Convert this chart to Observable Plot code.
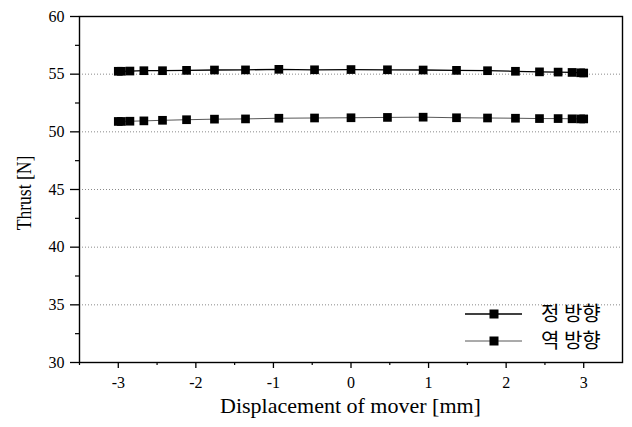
<!DOCTYPE html>
<html>
<head>
<meta charset="utf-8">
<script src="https://cdn.jsdelivr.net/npm/d3@7"></script>
<script src="https://cdn.jsdelivr.net/npm/@observablehq/plot@0.6"></script>
<style>
  html, body { margin: 0; padding: 0; background: #fff; }
  #chart { width: 632px; height: 427px; }
</style>
</head>
<body>
<div id="chart"></div>
<script>
// Data
const displacement = [-3, -2.96, -2.85, -2.67, -2.43, -2.12, -1.76, -1.36, -0.93, -0.47, 0, 0.47, 0.93, 1.36, 1.76, 2.12, 2.43, 2.67, 2.85, 2.96, 3];
const forwardThrust = [55.25, 55.25, 55.27, 55.3, 55.3, 55.33, 55.36, 55.37, 55.42, 55.38, 55.4, 55.38, 55.36, 55.33, 55.3, 55.25, 55.2, 55.18, 55.15, 55.12, 55.1];
const reverseThrust = [50.9, 50.9, 50.92, 50.95, 51.0, 51.05, 51.1, 51.12, 51.18, 51.2, 51.22, 51.25, 51.27, 51.22, 51.2, 51.18, 51.15, 51.15, 51.13, 51.12, 51.12];
const seriesNames = ["정 방향", "역 방향"];
const xTicks = [-3, -2, -1, 0, 1, 2, 3];
const xMinorTicks = [-3.5, -2.5, -1.5, -0.5, 0.5, 1.5, 2.5];
const yTicks = [30, 35, 40, 45, 50, 55, 60];
const yMinorTicks = [32.5, 37.5, 42.5, 47.5, 52.5, 57.5];
const gridValues = [35, 40, 45, 50, 55];
const xLabel = "Displacement of mover [mm]";
const yLabel = "Thrust [N]";

(function () {
const forward = displacement.map((x, i) => ({x, y: forwardThrust[i], s: seriesNames[0]}));
const reverse = displacement.map((x, i) => ({x, y: reverseThrust[i], s: seriesNames[1]}));

const W = 632, H = 427;
const mL = 79, mR = 10, mT = 16, mB = 65;

const chart = Plot.plot({
  width: W, height: H,
  marginLeft: mL, marginRight: mR, marginTop: mT, marginBottom: mB,
  style: {fontFamily: "'Liberation Serif', 'Times New Roman', serif", fontSize: "16px", color: "black", background: "white"},
  x: {domain: [-3.5, 3.5]},
  y: {domain: [30, 60]},
  marks: [
    Plot.ruleY(gridValues, {stroke: "#8a8a8a", strokeWidth: 1, strokeDasharray: "1,2"}),
    Plot.axisX({ticks: xMinorTicks, tickSize: 3, tickFormat: () => "", label: null, strokeWidth: 1.2}),
    Plot.axisY({ticks: yMinorTicks, tickSize: 4, tickFormat: () => "", label: null, strokeWidth: 1.2}),
    Plot.axisX({ticks: xTicks, tickSize: 6, tickPadding: 8, tickFormat: d => String(d), label: null, fontSize: 16, strokeWidth: 1.3}),
    Plot.axisY({ticks: yTicks, tickSize: 9, tickPadding: 6, tickFormat: d => String(d), label: null, fontSize: 16, strokeWidth: 1.3}),
    Plot.frame({stroke: "black", strokeWidth: 1.4}),
    Plot.line(reverse, {x: "x", y: "y", stroke: "#444", strokeWidth: 0.9}),
    Plot.line(forward, {x: "x", y: "y", stroke: "black", strokeWidth: 1.3}),
    Plot.dot(reverse, {x: "x", y: "y", symbol: "square", r: 4.9, fill: "black", stroke: "none"}),
    Plot.dot(forward, {x: "x", y: "y", symbol: "square", r: 4.9, fill: "black", stroke: "none"})
  ]
});

document.getElementById("chart").appendChild(chart);

const svg = d3.select(chart);
const pLeft = mL, pRight = W - mR, pTop = mT, pBottom = H - mB;

// Axis titles
svg.append("text")
  .attr("x", (pLeft + pRight) / 2)
  .attr("y", 413)
  .attr("text-anchor", "middle")
  .style("font-family", "'Liberation Serif', serif")
  .style("font-size", "22px")
  .attr("fill", "black")
  .text(xLabel);

svg.append("text")
  .attr("transform", `translate(31,${(pTop + pBottom) / 2 + 4}) rotate(-90) scale(0.8,1)`)
  .attr("text-anchor", "middle")
  .style("font-family", "'Liberation Serif', serif")
  .style("font-size", "22px")
  .attr("fill", "black")
  .text(yLabel);

// Legend (inside plot, bottom right)
const legend = svg.append("g");
const lx0 = pRight - 157, lx1 = pRight - 100, lmx = pRight - 128, ltx = pRight - 81;
const rows = [
  {name: seriesNames[0], y: pBottom - 48, sw: 1.3, stroke: "black"},
  {name: seriesNames[1], y: pBottom - 21, sw: 0.9, stroke: "#444"}
];
rows.forEach(r => {
  legend.append("line").attr("x1", lx0).attr("x2", lx1).attr("y1", r.y).attr("y2", r.y)
    .attr("stroke", r.stroke).attr("stroke-width", r.sw);
  legend.append("rect").attr("x", lmx - 4.5).attr("y", r.y - 4.5).attr("width", 9).attr("height", 9).attr("fill", "black");
  legend.append("text").attr("x", ltx).attr("y", r.y + 7)
    .attr("text-anchor", "start")
    .style("font-family", "'Noto Sans CJK KR', sans-serif")
    .style("font-size", "20px")
    .attr("fill", "black")
    .text(r.name);
});
})();
</script>
</body>
</html>
